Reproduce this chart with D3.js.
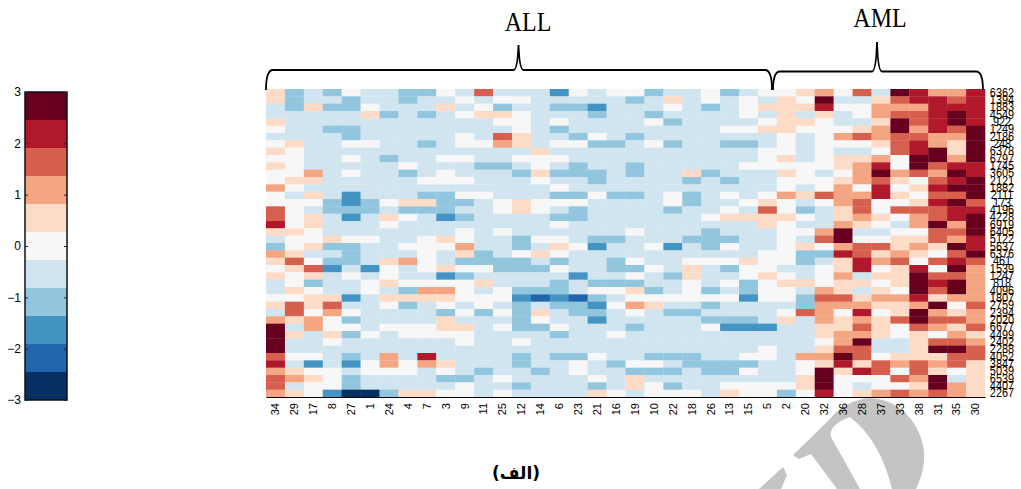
<!DOCTYPE html>
<html lang="fa">
<head>
  <meta charset="UTF-8">
  <title>ALL / AML heatmap</title>
  <script src="https://cdn.jsdelivr.net/npm/d3@7"></script>
  <style>
    body { margin: 0; background: #fff; }
    text { font-family: "Liberation Sans", Arial, sans-serif; fill: #000; }
  </style>
</head>
<body>
  <svg id="chart"></svg>
  <script>
    var samples = ["34","29","17","8","27","1","24","4","7","3","9","11","25","12","14","6","23","21","16","19","10","22","18","26","13","15","5","2","20","32","36","28","37","33","38","31","35","30"];
    var genes = ["6362","1394","1883","4549","922","1249","2186","248","6378","6797","1745","3605","2121","1882","2111","173","4196","4228","6919","6405","5122","5637","6376","461","1539","1247","818","4096","1807","2759","2394","2020","6677","4499","2402","2288","4052","3847","5039","6539","4407","2267"];
    var palette = ["#053061","#2166ac","#4393c3","#92c5de","#d1e5f0","#f7f7f7","#fddbc7","#f4a582","#d6604d","#b2182b","#67001f"];
    var barTicks = [-3,-2,-1,0,1,2,3];

    // one row per gene, columns in the order of samples
    var expression = [
      [.5,-1,-.5,-1,0,-.5,-.5,-1,-1,0,-.5,1.6,-.5,-.5,-.5,-1.6,0,-.5,0,0,-1,-.5,-.5,0,-1,-.5,0,0,.5,1,0,1.6,-.5,2.7,2.2,1,1,2.2],
      [.5,-1,-.5,-.5,-1,-.5,-.5,-1,-.5,-.5,0,-.5,0,0,-.5,-.5,-.5,-.5,-.5,-1,-.5,.5,-.5,0,-.5,0,-.5,.5,0,2.7,-.5,-.5,.5,1.6,2.2,2.2,1.6,2.2],
      [-.5,-1,.5,-1,-1,0,-.5,-.5,-.5,.5,-.5,0,-1,-.5,-.5,-1,-1,-1.6,-.5,-.5,-.5,0,-.5,-1,-.5,0,.5,.5,.5,2.2,0,0,1,1,1,2.2,2.2,2.2],
      [-.5,-.5,-.5,-.5,-.5,.5,-1,-.5,-1,-.5,0,.5,.5,0,-.5,-.5,-.5,-1,-.5,-.5,-1,-.5,-.5,-.5,-.5,0,-.5,.5,-.5,.5,-.5,0,1,1.6,1.6,2.2,2.7,2.2],
      [.5,-.5,-.5,-.5,-.5,-.5,-.5,-.5,-.5,-.5,-.5,-.5,0,0,-.5,0,-.5,-.5,-.5,-.5,0,-1,-.5,-.5,-.5,-.5,0,.5,.5,0,-.5,-.5,.5,2.7,1.6,2.2,2.7,2.2],
      [0,-.5,-.5,-1,-1,-.5,-.5,-.5,-.5,-.5,-.5,-.5,-.5,0,-.5,-1,-.5,-.5,-.5,-.5,-.5,-.5,-.5,-.5,0,0,.5,.5,0,0,0,.5,1,2.7,1,2.2,1.6,2.7],
      [-.5,-.5,-.5,-.5,-1,-.5,-.5,-.5,-.5,-.5,0,-.5,1.6,.5,-.5,-.5,-1,0,-.5,-1,-.5,-.5,-.5,-.5,-.5,-.5,-.5,0,-.5,0,1,1.6,1,1.6,1.6,1,1,2.7],
      [0,.5,-.5,-.5,0,0,-.5,-.5,-1,-.5,0,0,1,.5,-.5,0,0,-1,-1,-.5,0,-1,-.5,-.5,-1,-1,-.5,0,-.5,0,0,0,.5,1.6,2.2,1,.5,2.7],
      [.5,0,-.5,-.5,-.5,-.5,-.5,-.5,-.5,-.5,-.5,-.5,-.5,-.5,.5,-.5,-.5,-.5,-.5,-.5,-.5,-.5,-.5,-.5,-.5,-.5,0,0,-.5,0,-.5,-.5,0,1.6,2.2,2.7,.5,2.7],
      [0,0,-.5,-.5,0,-.5,-1,-.5,-.5,0,0,-.5,-.5,0,0,0,-.5,-.5,-.5,-.5,-.5,-.5,-.5,-.5,-.5,-.5,0,.5,-.5,0,.5,.5,1,0,2.7,2.7,1,2.7],
      [.5,0,-.5,-.5,-.5,-.5,-.5,0,-.5,-.5,-.5,-1,-1,-.5,0,-.5,-1,-.5,-.5,-1,-.5,-.5,-.5,-.5,-.5,0,0,0,0,0,.5,1,2.2,0,2.7,1.6,2.2,2.2],
      [0,0,1,-.5,0,-.5,-.5,-1,-.5,0,-.5,-.5,-.5,-1,.5,-1,-1,-1,-.5,-1,-.5,-.5,.5,-1,-.5,-.5,-.5,.5,0,-.5,0,1,2.7,1,1.6,1,2.7,2.2],
      [0,.5,.5,-.5,-.5,-.5,-.5,-.5,0,0,0,-.5,-.5,-.5,0,-.5,-.5,-1,-.5,-.5,-.5,-.5,-1,-.5,-1,-.5,-.5,0,0,0,.5,1,1.6,.5,0,1.6,2.2,2.7],
      [1,0,-.5,-.5,-.5,-.5,-.5,-.5,-.5,-.5,-.5,-.5,-.5,-.5,-.5,0,-.5,-.5,-.5,-.5,-.5,-.5,-.5,-.5,-.5,-.5,-.5,0,-.5,0,1,0,2.2,0,.5,2.2,2.7,2.7],
      [0,-.5,.5,-.5,-1.6,-.5,-.5,-.5,-1,-1,0,0,-.5,-.5,-.5,-1,-1,0,-1,-1,-.5,0,-1,-.5,0,-.5,0,1,.5,1.6,1,1,2.2,.5,0,1.6,1.6,2.7],
      [0,0,0,-1,-1.6,-1,0,.5,.5,-1,-1,-.5,0,.5,0,0,0,-.5,-.5,-.5,-.5,0,-1,-.5,-.5,0,.5,0,-.5,0,1,1.6,0,0,.5,2.2,2.7,1.6],
      [1.6,0,-.5,-1,-1,-1,-.5,-1,-1,-1,-.5,-.5,0,.5,0,-.5,-1,-.5,-.5,-.5,-.5,-1,-.5,-.5,0,-.5,1.6,0,-1,-.5,.5,1.6,0,1.6,1.6,1.6,2.2,2.2],
      [1.6,0,.5,-.5,-1.6,-.5,.5,0,-.5,-1.6,-1,-.5,-.5,-.5,-.5,-1,-1,-.5,-.5,-.5,-.5,-.5,-.5,0,.5,.5,.5,.5,0,-.5,.5,1,.5,0,1,1.6,2.2,2.7],
      [2.2,0,.5,-.5,-.5,-.5,0,-.5,-.5,-.5,-.5,-.5,-.5,-.5,-.5,0,-.5,-.5,-.5,-.5,-.5,-.5,-.5,-.5,-.5,-.5,.5,0,-.5,-.5,1,.5,0,-.5,1,2.7,1,2.7],
      [.5,.5,0,-.5,-.5,-.5,-.5,-.5,-.5,-.5,0,-.5,0,-.5,-.5,-.5,-.5,-.5,-.5,0,-.5,-.5,-.5,-1,-.5,-.5,-.5,0,0,1,2.7,-.5,-.5,0,0,1.6,1.6,2.7],
      [-.5,0,0,.5,0,0,-.5,-.5,0,.5,0,-.5,-.5,-1,0,0,-.5,-1,-1,-.5,-.5,-.5,-1,-1,-1,-.5,-.5,0,-.5,1.6,2.7,0,0,.5,.5,1.6,1,2.2],
      [-1,0,.5,-1,-1,-.5,-.5,0,0,0,1,-.5,-.5,-1,-.5,.5,0,-1.6,-.5,-.5,0,-1.6,-.5,-1,0,-.5,-.5,0,.5,0,1,1.6,1.6,.5,1,.5,2.7,2.2],
      [1,.5,-.5,-.5,-1,-.5,-.5,-.5,0,-.5,.5,-1,-.5,0,.5,0,-.5,-.5,-.5,-.5,-.5,-.5,-.5,-.5,-.5,-.5,0,0,-1,-1,2.2,1.6,.5,1,.5,0,1.6,2.7],
      [.5,1.6,0,-1,-1,-.5,.5,1,0,-.5,-1,-1,-1,-1,-.5,-1,-.5,-.5,-1,0,-.5,-.5,0,0,0,.5,0,0,-1,-.5,.5,2.2,1,1.6,0,1.6,2.2,1.6],
      [0,.5,1.6,-1.6,-.5,-1.6,0,-.5,0,.5,0,0,-1,-1,-1,0,-.5,-.5,-1,-1,0,-.5,.5,-.5,-1,0,0,-.5,-.5,0,.5,2.2,0,.5,2.2,0,2.7,1],
      [.5,0,.5,-.5,0,-.5,0,-.5,-.5,-1.6,-1,-.5,-.5,-.5,-.5,-.5,-1.6,-.5,-.5,0,-.5,-1,.5,-.5,-.5,0,.5,0,-.5,0,1,-.5,.5,.5,2.7,1.6,1.6,1],
      [-.5,0,-1,-.5,-.5,0,.5,0,0,0,0,.5,-.5,-.5,-.5,-1,-.5,-1,-1,-1,-.5,-.5,0,-.5,0,-1,0,.5,.5,0,.5,.5,0,.5,2.7,2.2,2.7,1],
      [-.5,.5,0,-.5,-.5,0,-.5,-1,1,1,0,-.5,0,-1,-1,-1,-.5,0,0,.5,-1,-.5,0,-1,-.5,-1,0,0,-.5,1,.5,-.5,.5,0,2.7,1.6,2.7,1],
      [0,0,.5,.5,-1.6,-.5,.5,.5,.5,.5,0,0,0,-1.6,-2.2,-1.6,-2.2,-1,-.5,0,0,0,0,0,0,-1.6,0,0,-1,1.6,1.6,.5,1,1,2.2,.5,1,1],
      [.5,1.6,.5,1.6,-.5,-.5,0,-1,-.5,0,-.5,0,-.5,-1,-.5,-1,-1,-1.6,0,1,.5,-.5,-.5,-1,-.5,-.5,-.5,-.5,-1,1,1,1,.5,.5,1,2.7,0,1.6],
      [-.5,1.6,0,1,0,-.5,-.5,-.5,-.5,-1,0,-1,0,-1,.5,-.5,-1,-1,-.5,0,-.5,-1,-1,-.5,-.5,-.5,-.5,0,1.6,1,0,2.2,0,.5,2.7,1,.5,1],
      [1,.5,1,0,-1,-.5,-.5,-.5,-.5,.5,-.5,-.5,-.5,-1,0,-.5,-.5,-1.6,-.5,-.5,-.5,-.5,-.5,-1,-1,-1,-.5,.5,-.5,1,.5,1,.5,1.6,2.7,1.6,1.6,1],
      [2.7,-.5,1,0,0,-.5,0,0,0,.5,.5,-.5,0,-1,-1,0,-.5,-.5,-.5,-1,-.5,-.5,-.5,0,-1.6,-1.6,-1.6,-.5,-.5,.5,.5,1.6,.5,0,1.6,1,.5,1.6],
      [2.7,.5,-.5,.5,-1,0,-.5,0,0,0,0,-.5,-.5,-.5,-.5,-1,-.5,-.5,0,-.5,-.5,-.5,-.5,-.5,-.5,-.5,-.5,-.5,-.5,.5,1,1,.5,0,.5,0,1,.5],
      [2.7,-.5,-.5,0,-.5,-.5,-.5,-.5,-.5,-.5,0,-.5,-.5,0,-.5,-.5,-.5,-.5,-.5,-.5,-.5,-.5,-.5,-.5,-.5,-.5,-.5,-.5,-.5,0,1,2.7,-.5,-.5,.5,1.6,1.6,1],
      [2.7,-.5,-.5,-.5,-.5,-.5,-.5,-.5,-.5,-.5,-.5,-.5,-.5,-.5,-.5,-.5,-.5,-.5,-.5,-.5,-.5,-.5,-.5,-.5,-.5,-.5,0,-.5,-.5,.5,1.6,1.6,-.5,-.5,.5,2.7,2.7,1.6],
      [1.6,0,0,-.5,-1,-.5,1,-.5,2.2,-.5,-.5,-.5,-.5,-1,-.5,-1,-1,0,-.5,-.5,-1,-1,-1,-.5,-.5,0,0,-.5,1,1,2.7,1.6,0,.5,.5,.5,1.6,1.6],
      [2.2,-.5,-1.6,-.5,-1.6,0,1,0,1,.5,-.5,-.5,-.5,-1,-.5,-.5,0,-.5,-1,0,0,-.5,-1,-1,-1,-1,-.5,-.5,0,.5,2.2,.5,1.6,1,1.6,1,1.6,.5],
      [1,.5,0,0,-.5,0,0,0,-.5,0,-.5,-1,-.5,-.5,-1,-.5,0,-.5,-.5,-1,-1,-1,-.5,-1,-1,0,-.5,-.5,0,2.7,.5,2.2,1.6,0,1.6,.5,0,.5],
      [1.6,1,.5,0,-1,-.5,-.5,-.5,-.5,-1,-1,-.5,0,-.5,-.5,-.5,-.5,0,-.5,.5,-.5,-.5,-.5,-.5,-.5,-.5,-.5,-.5,.5,2.7,0,0,0,1.6,1,2.7,-.5,.5],
      [1.6,-.5,0,0,-1,-.5,-.5,-.5,-.5,-.5,0,-.5,-.5,-1,-.5,-.5,-.5,-1,-.5,.5,0,-1,-.5,-.5,0,0,0,0,.5,2.7,0,-.5,0,0,.5,2.7,1,.5],
      [1,.5,0,-1.6,-2.7,-2.7,-1,.5,.5,0,0,-.5,0,-.5,-.5,-.5,-.5,.5,0,-.5,0,0,0,-.5,.5,0,0,-1,0,2.2,0,.5,1,1.6,1,1.6,1,.5]
    ];

    var width = 1021, height = 489;
    var svg = d3.select("#chart").attr("width", width).attr("height", height);

    // watermark left over in the source scan
    var mark = svg.append("g").attr("fill", "#c4c4c4");
    mark.append("path").attr("d", "M793,455 L829,420 Q845,400 870,398 Q905,400 920,435 Q930,460 916,489 L892,489 Q880,440 850,417 Q828,425 831,437 L860,489 L837,489 L811,454 L799,459 Z");
    mark.append("path").attr("d", "M759,489 L783,467 L787,475 L781,489 Z");

    var x = d3.scaleBand().domain(samples).range([266, 985]);
    var y = d3.scaleBand().domain(genes).range([89, 397]);
    var colour = d3.scaleQuantize().domain([-3, 3]).range(palette);

    var rows = svg.append("g").selectAll("g")
      .data(expression)
      .enter()
      .append("g");

    rows.selectAll("rect")
      .data(function(d, i) {
        return d.map(function(v, j) { return { gene: genes[i], sample: samples[j], v: v }; });
      })
      .enter()
      .append("rect")
      .attr("x", function(d) { return x(d.sample); })
      .attr("y", function(d) { return y(d.gene); })
      .attr("width", x.bandwidth() + 0.3)
      .attr("height", y.bandwidth() + 0.3)
      .attr("fill", function(d) { return colour(d.v); });

    var xAxis = svg.append("g")
      .attr("transform", "translate(0,397)")
      .call(d3.axisBottom(x).tickSize(0));
    xAxis.select(".domain").attr("stroke", "#000").attr("stroke-width", 1);
    xAxis.selectAll("text")
      .attr("transform", "rotate(-90)")
      .attr("text-anchor", "end")
      .attr("x", -6)
      .attr("y", 0)
      .attr("dy", "0.35em")
      .style("font-size", "11px")
      .style("font-family", '"Liberation Sans", Arial, sans-serif');

    var yAxis = svg.append("g")
      .attr("transform", "translate(1002,0)")
      .call(d3.axisRight(y).tickSize(0).tickPadding(0));
    yAxis.select(".domain").remove();
    yAxis.selectAll("text")
      .attr("text-anchor", "middle")
      .attr("transform", "scale(0.84,1)")
      .style("font-size", "13px")
      .style("font-family", '"Liberation Sans", Arial, sans-serif');

    // colour bar
    var barY = d3.scaleLinear().domain([-3, 3]).range([400, 92]);
    var edges = [-3].concat(colour.thresholds(), [3]);
    svg.append("g").selectAll("rect")
      .data(palette)
      .enter()
      .append("rect")
      .attr("x", 25)
      .attr("width", 42)
      .attr("y", function(d, i) { return barY(edges[i + 1]); })
      .attr("height", function(d, i) { return barY(edges[i]) - barY(edges[i + 1]); })
      .attr("fill", function(d) { return d; });
    svg.append("rect")
      .attr("x", 25).attr("y", 92).attr("width", 42).attr("height", 308)
      .attr("fill", "none").attr("stroke", "#111").attr("stroke-width", 1.5);

    var barLeft = svg.append("g")
      .attr("transform", "translate(25,0)")
      .call(d3.axisLeft(barY).tickValues(barTicks).tickSize(-3).tickPadding(4).tickFormat(d3.format("d")));
    barLeft.select(".domain").remove();
    barLeft.selectAll("text")
      .style("font-size", "12px")
      .style("font-family", '"Liberation Sans", Arial, sans-serif');
    barLeft.selectAll("line").attr("stroke", "#222");
    var barRight = svg.append("g")
      .attr("transform", "translate(67,0)")
      .call(d3.axisRight(barY).tickValues(barTicks).tickSize(-3).tickFormat(""));
    barRight.select(".domain").remove();
    barRight.selectAll("line").attr("stroke", "#222");

    // braces over the two groups
    function brace(x0, x1, tipX, top, tip, foot) {
      return "M" + x0 + "," + foot +
        " Q" + x0 + "," + top + " " + (x0 + 7) + "," + top +
        " L" + (tipX - 5) + "," + top +
        " Q" + (tipX - 1) + "," + top + " " + tipX + "," + tip +
        " Q" + (tipX + 1) + "," + top + " " + (tipX + 5) + "," + top +
        " L" + (x1 - 7) + "," + top +
        " Q" + x1 + "," + top + " " + x1 + "," + foot;
    }
    svg.append("path").attr("d", brace(266, 772, 518.5, 70, 45, 90))
      .attr("fill", "none").attr("stroke", "#000").attr("stroke-width", 1.8);
    svg.append("path").attr("d", brace(773, 983, 877, 71.5, 42, 90))
      .attr("fill", "none").attr("stroke", "#000").attr("stroke-width", 1.8);

    // the scanned titles are a little taller than the plain font
    svg.append("text").attr("transform", "translate(528,31) scale(1,1.12)").attr("text-anchor", "middle")
      .style("font-family", '"Liberation Serif", serif').style("font-size", "24px").text("ALL");
    svg.append("text").attr("transform", "translate(880,27) scale(1,1.12)").attr("text-anchor", "middle")
      .style("font-family", '"Liberation Serif", serif').style("font-size", "24px").text("AML");
    svg.append("text").attr("x", 516).attr("y", 479).attr("text-anchor", "middle")
      .attr("direction", "rtl")
      .style("font-family", '"DejaVu Sans", serif').style("font-weight", "bold").style("font-size", "17px").text("(الف)");
  </script>
</body>
</html>
